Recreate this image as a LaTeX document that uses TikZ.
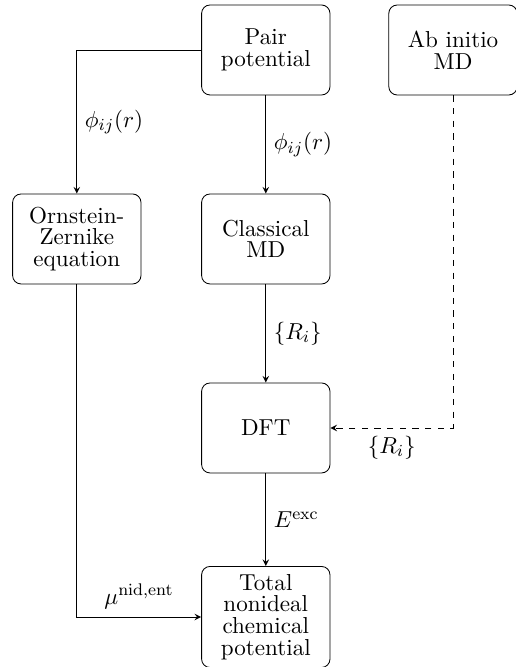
\documentclass[tikz,border=0pt,11pt]{standalone}
\usepackage{tikz}
\usetikzlibrary{positioning}

\begin{document}
\begin{tikzpicture}[node distance=3.15cm, on grid]
	% Define styles
	\tikzstyle{block} = [rectangle, draw, align=center, rounded corners,
	minimum width=2.14cm, minimum height=1.5cm, font=\fontsize{10.95}{10.3}\selectfont]
	\tikzstyle{arrow} = [->,>=stealth]
	\tikzstyle{dasharrow} = [arrow, dashed]
	
	\useasboundingbox (0,0) rectangle (8.6,-11.117);
	
	% Place nodes
	\node [block] (pair) at (4.43,-0.833) {Pair\\potential};
	\node [block, right=3.12cm of pair] (abinitio) {Ab initio\\MD};
	\node [block, below=of pair] (classical) {Classical\\MD};
	\node [block, left=of classical] (oz) {Ornstein-\\Zernike\\equation};
	\node [block, below=of classical] (dft) {DFT};
	\node [block, below=of dft] (total) {Total\\nonideal\\chemical\\potential};
	
	% Draw arrows
	\draw [arrow] (pair) -| node[pos=0.75, right] {$\phi_{ij}(r)$} (oz);
	\draw [arrow] (pair) -- node[right] {$\phi_{ij}(r)$} (classical);
	\draw [arrow] (classical) -- node[right] {$\{R_i\}$} (dft);
	\draw [dasharrow] (abinitio) |- node[pos=0.75, below] {$\{R_i\}$} (dft);
	\draw [arrow] (dft) -- node[right] {$E^{\mathrm{exc}}$} (total);
	\draw [arrow] (oz) |- node[pos=0.75, above] {$\mu^{\mathrm{nid,ent}}$} (total);
\end{tikzpicture}
\end{document}
